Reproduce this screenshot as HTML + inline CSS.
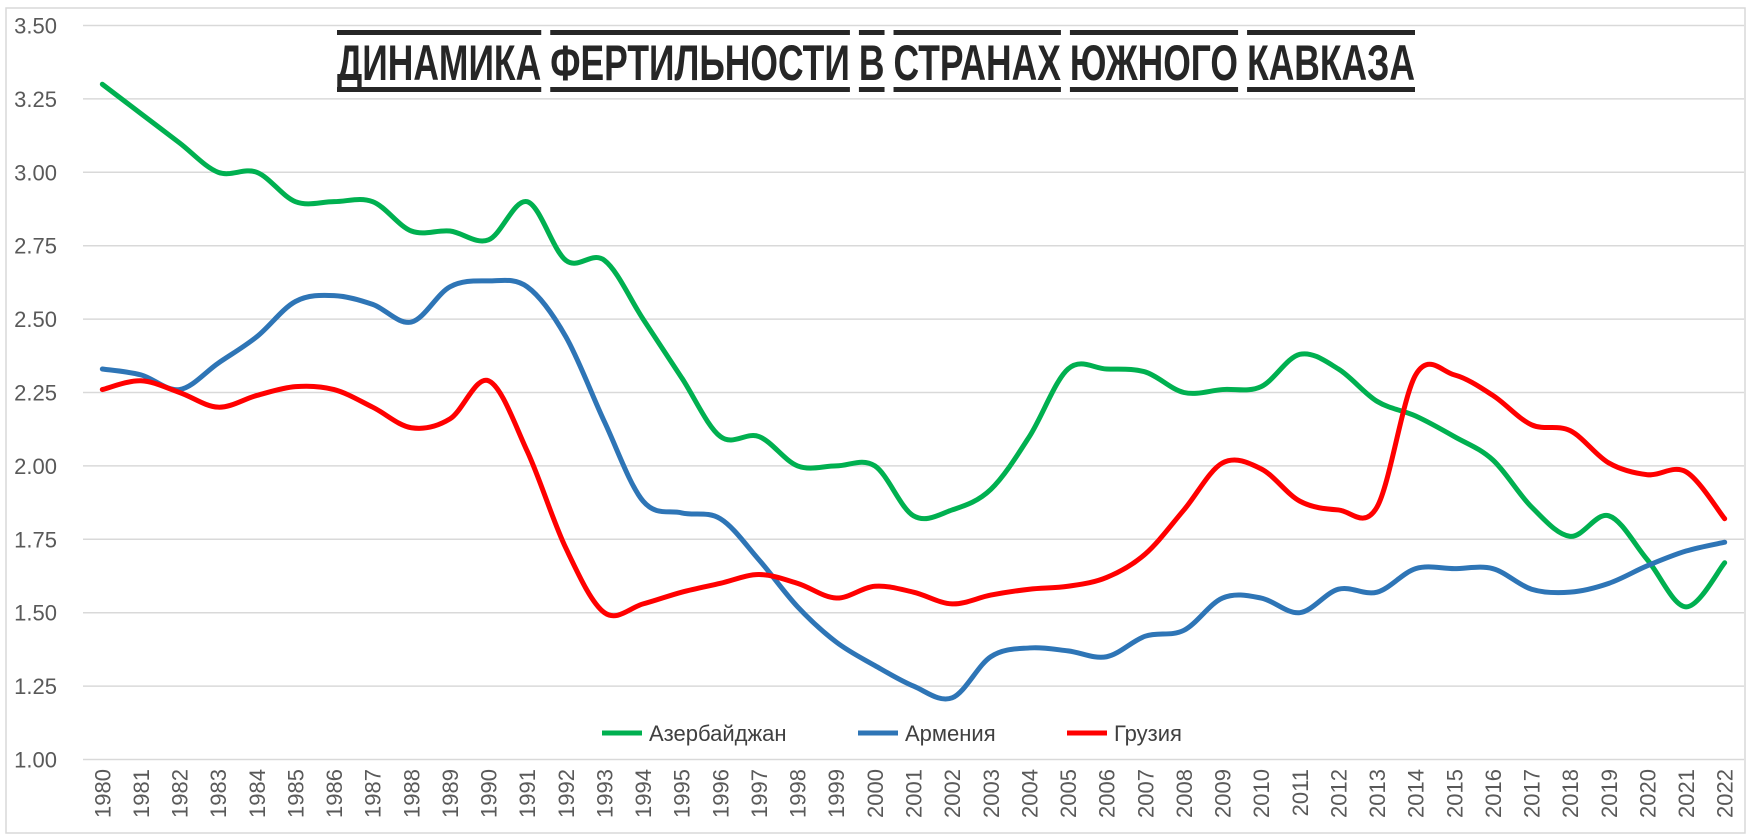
<!DOCTYPE html>
<html><head><meta charset="utf-8"><style>
body{margin:0;background:#fff;}
svg{display:block;font-family:"Liberation Sans",sans-serif;}
</style></head><body>
<svg id="c" width="1750" height="839" xmlns="http://www.w3.org/2000/svg">
<rect x="6" y="8" width="1739" height="825" fill="#fff" stroke="#d9d9d9" stroke-width="1.5"/>
<g id="grid"></g>
<g id="lines"></g>
<g id="title"></g>
<g transform="translate(602,733)" font-size="22" fill="#404040">
<line x1="0" y1="0" x2="40" y2="0" stroke="#00b050" stroke-width="5"/>
<text x="47" y="8">Азербайджан</text>
<line x1="256" y1="0" x2="296" y2="0" stroke="#2e75b6" stroke-width="5"/>
<text x="303" y="8">Армения</text>
<line x1="465" y1="0" x2="505" y2="0" stroke="#ff0000" stroke-width="5"/>
<text x="512" y="8">Грузия</text>
</g>
</svg>
<script>
const NS="http://www.w3.org/2000/svg";
const svg=document.getElementById('c');
function el(t,a,p,txt){const e=document.createElementNS(NS,t);for(const k in a)e.setAttribute(k,a[k]);if(txt!==undefined)e.textContent=txt;(p||svg).appendChild(e);return e;}
const L=83,R=1744,Y0=759.5,PU=293.6;
const Y=v=>Y0-(v-1)*PU;
const step=(R-L)/43;
const X=i=>L+step*(i+0.5);
const grid=document.getElementById('grid');
for(let k=0;k<=10;k++){const v=1+k*0.25,y=Y(v);
el('line',{x1:L,x2:R,y1:y,y2:y,stroke:'#d9d9d9','stroke-width':1.5},grid);
el('text',{x:57,y:y+8,'text-anchor':'end','font-size':22,fill:'#595959'},grid,v.toFixed(2));}
for(let i=0;i<43;i++){const x=X(i);
el('text',{transform:`translate(${x+8},${769}) rotate(-90)`,'text-anchor':'end','font-size':22,fill:'#595959'},grid,String(1980+i));}
const az=[3.30,3.20,3.10,3.00,3.00,2.90,2.90,2.90,2.80,2.80,2.77,2.90,2.70,2.70,2.50,2.30,2.10,2.10,2.00,2.00,2.00,1.83,1.85,1.92,2.10,2.33,2.33,2.32,2.25,2.26,2.27,2.38,2.33,2.22,2.17,2.10,2.02,1.86,1.76,1.83,1.68,1.52,1.67];
const am=[2.33,2.31,2.26,2.35,2.44,2.56,2.58,2.55,2.49,2.61,2.63,2.61,2.44,2.15,1.88,1.84,1.82,1.68,1.52,1.40,1.32,1.25,1.21,1.35,1.38,1.37,1.35,1.42,1.44,1.55,1.55,1.50,1.58,1.57,1.65,1.65,1.65,1.58,1.57,1.60,1.66,1.71,1.74];
const ge=[2.26,2.29,2.25,2.20,2.24,2.27,2.26,2.20,2.13,2.16,2.29,2.05,1.72,1.50,1.53,1.57,1.60,1.63,1.60,1.55,1.59,1.57,1.53,1.56,1.58,1.59,1.62,1.70,1.85,2.01,1.99,1.88,1.85,1.86,2.31,2.31,2.24,2.14,2.12,2.01,1.97,1.98,1.82];
function path(d){const p=d.map((v,i)=>[X(i),Y(v)]);let s=`M${p[0][0]},${p[0][1]}`;
for(let i=0;i<p.length-1;i++){const p0=p[Math.max(0,i-1)],p1=p[i],p2=p[i+1],p3=p[Math.min(p.length-1,i+2)];const t=1/6;
s+=` C${p1[0]+(p2[0]-p0[0])*t},${p1[1]+(p2[1]-p0[1])*t} ${p2[0]-(p3[0]-p1[0])*t},${p2[1]-(p3[1]-p1[1])*t} ${p2[0]},${p2[1]}`;}return s;}
const lg=document.getElementById('lines');
[[az,'#00b050'],[am,'#2e75b6'],[ge,'#ff0000']].forEach(([d,c])=>el('path',{d:path(d),fill:'none',stroke:c,'stroke-width':5,'stroke-linecap':'round','stroke-linejoin':'round'},lg));
const tg=document.getElementById('title');
const words=["ДИНАМИКА","ФЕРТИЛЬНОСТИ","В","СТРАНАХ","ЮЖНОГО","КАВКАЗА"];
let x=337;
const widths=[];
words.forEach((w,i)=>{
 const t=el('text',{x:0,y:80,'font-size':50,'font-weight':'bold',fill:'#262626','font-family':'"Liberation Sans Narrow","Liberation Sans",sans-serif'},tg,w);
 widths.push(t);
});
const total=1413-335, gap=9;
let sum=0;const ws=widths.map(t=>{const w=t.getBBox().width;sum+=w;return w;});
const sc=(total-gap*(words.length-1))/sum;
widths.forEach((t,i)=>{
 t.setAttribute('transform',`translate(${x},0) scale(${sc},1)`);
 const w=ws[i]*sc;
 el('rect',{x:x,y:30,width:w,height:5,fill:'#262626'},tg);
 el('rect',{x:x,y:87,width:w,height:5,fill:'#262626'},tg);
 x+=w+gap;
});
</script>
</body></html>
